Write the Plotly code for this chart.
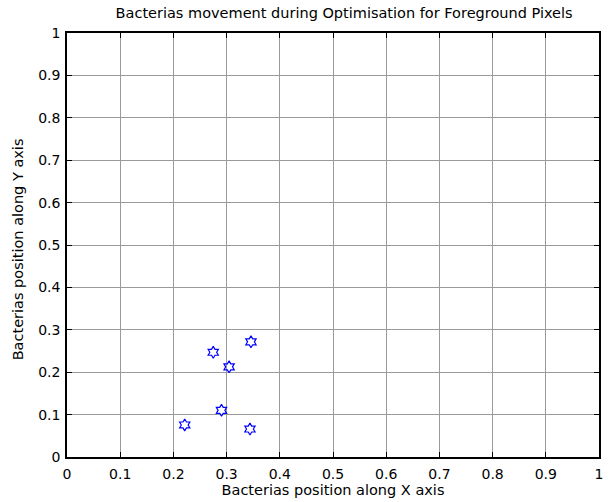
import plotly.graph_objects as go

x_pos = [0.2749, 0.3458, 0.3047, 0.2904, 0.2213, 0.3439]
y_pos = [0.247, 0.2716, 0.2126, 0.110, 0.0756, 0.066]
tick_vals = [0, 0.1, 0.2, 0.3, 0.4, 0.5, 0.6, 0.7, 0.8, 0.9, 1]
tick_text = ["0", "0.1", "0.2", "0.3", "0.4", "0.5", "0.6", "0.7", "0.8", "0.9", "1"]

FONT = "DejaVu Sans"

fig = go.Figure()
fig.add_trace(go.Scatter(
    x=x_pos, y=y_pos, mode="markers",
    marker=dict(symbol="hexagram-open", size=9, color="#0000ff",
                line=dict(color="#0000ff", width=1.2)),
    showlegend=False,
))

axis_common = dict(
    range=[0, 1], tickvals=tick_vals, ticktext=tick_text,
    showgrid=True, gridcolor="#9a9a9a", gridwidth=1,
    showline=True, linecolor="black", linewidth=1.5, mirror="ticks",
    ticks="inside", ticklen=5, tickcolor="black", tickwidth=1,
    zeroline=False,
    tickfont=dict(family=FONT, size=14, color="black"),
)

fig.update_layout(
    width=609, height=502,
    margin=dict(l=67, r=6, t=33, b=45),
    paper_bgcolor="white", plot_bgcolor="white",
    title=dict(text="Bacterias movement during Optimisation for Foreground Pixels",
               x=0.565, xanchor="center", y=0.975, yanchor="middle",
               font=dict(family=FONT, size=14.5, color="black")),
    xaxis=dict(**axis_common,
               title=dict(text="Bacterias position along X axis",
                          font=dict(family=FONT, size=14.5, color="black"),
                          standoff=0),
               ticklabelstandoff=3),
    yaxis=dict(**axis_common, ticklabelstandoff=2),
    annotations=[dict(
        text="Bacterias position along Y axis", textangle=-90,
        xref="paper", yref="paper", x=-0.0914, y=0.4906,
        xanchor="center", yanchor="middle", showarrow=False,
        font=dict(family=FONT, size=14.5, color="black"),
    )],
)

fig.write_html("out.html")
